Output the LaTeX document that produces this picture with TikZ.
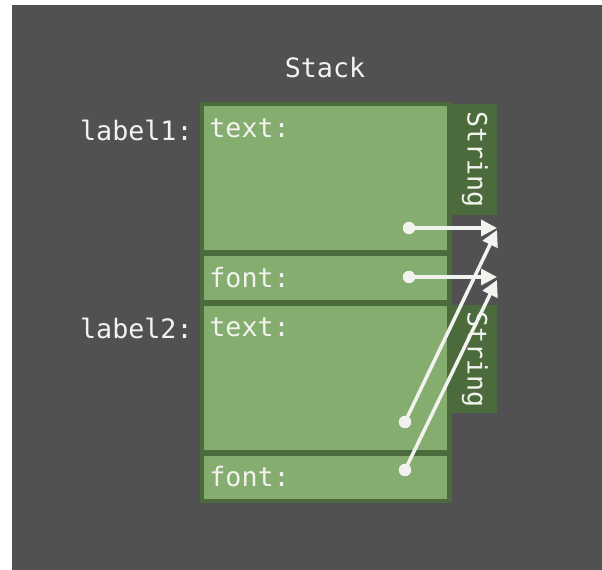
\documentclass[tikz,border=0pt]{standalone}
\usepackage{fontspec}
\setmonofont{DejaVu Sans Mono}
\usetikzlibrary{arrows.meta, positioning}
\definecolor{bgdark}{HTML}{515153}
\definecolor{cellgreen}{HTML}{84AD6F}
\definecolor{framegreen}{HTML}{4B6B3C}
\definecolor{inkwhite}{HTML}{F2F2EE}

\begin{document}
\begin{tikzpicture}[
      x=0.02cm, y=-0.02cm,
      every node/.style={font=\ttfamily\fontsize{15.2}{17}\selectfont, text=inkwhite},
      cell/.style={rectangle, fill=cellgreen, anchor=north west, minimum width=4.86cm, inner sep=0pt},
      strbox/.style={rectangle, fill=framegreen, anchor=north west, minimum width=0.9cm, inner sep=0pt},
      field/.style={anchor=west, inner sep=0pt},
      ptr/.style={-{Triangle[length=3.2mm,width=3.2mm]}, draw=inkwhite, line width=2pt},
      ptrdot/.style={circle, fill=inkwhite, inner sep=0pt, minimum size=0.25cm}
    ]
      \useasboundingbox (0,0) rectangle (602,570);
      \fill[bgdark] (12,5) rectangle (602,570);

      \node (title) at (325,68) {Stack};

      % stack frame and its four slots
      \node[fill=framegreen, anchor=north west, minimum width=5.04cm, minimum height=8.02cm, inner sep=0pt] (stack) at (200,102) {};
      \node[cell, minimum height=2.88cm] (text1) at (204,106) {};
      \node[cell, minimum height=0.88cm] (font1) at (204,256) {};
      \node[cell, minimum height=2.88cm] (text2) at (204,306) {};
      \node[cell, minimum height=0.86cm] (font2) at (204,456) {};

      \node[field] (text1lbl) at (209,128) {text:};
      \node[field] (font1lbl) at (209,278) {font:};
      \node[field] (text2lbl) at (209,327) {text:};
      \node[field] (font2lbl) at (209,477) {font:};

      \node[anchor=east, inner sep=0pt] (label1) at (193,130) {label1:};
      \node[anchor=east, inner sep=0pt] (label2) at (193,328) {label2:};

      % heap strings
      \node[strbox, minimum height=2.22cm] (str1) at (452,104) {};
      \node[strbox, minimum height=2.16cm] (str2) at (452,305) {};
      \node[rotate=-90] (str1lbl) at (str1.center) {String};
      \node[rotate=-90] (str2lbl) at (str2.center) {String};

      % pointers
      \node[ptrdot] (p1) at (409,228) {};
      \node[ptrdot] (p2) at (409,277) {};
      \node[ptrdot] (p3) at (405,422) {};
      \node[ptrdot] (p4) at (405,470) {};
      \coordinate (tip1) at (497,228);
      \coordinate (tip2) at (497,277);
      \coordinate (tip3) at (497,230);
      \coordinate (tip4) at (497,280);
      \draw[ptr] (p1.center) -- (tip1);
      \draw[ptr] (p2.center) -- (tip2);
      \draw[ptr] (p3.center) -- (tip3);
      \draw[ptr] (p4.center) -- (tip4);
    \end{tikzpicture}
\end{document}
